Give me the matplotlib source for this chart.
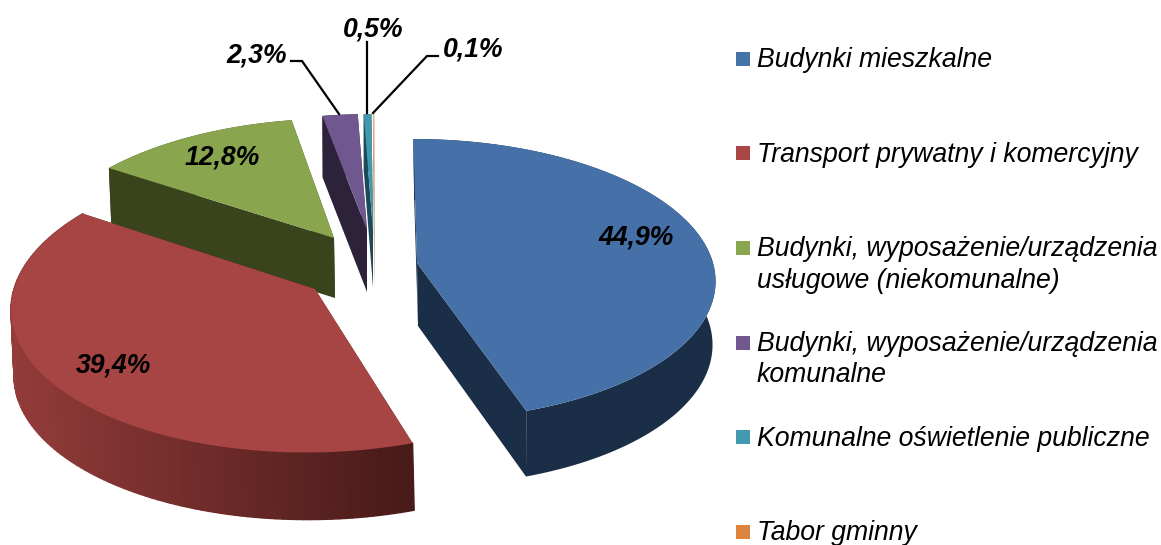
import matplotlib
matplotlib.use('Agg')
import matplotlib.pyplot as plt
import matplotlib.colors as colors
from matplotlib.collections import PolyCollection
from matplotlib.patches import Polygon, Rectangle
import numpy as np

plt.rcParams['font.family'] = ['Liberation Sans', 'DejaVu Sans']

# data
names = ['Budynki mieszkalne', 'Transport prywatny i komercyjny',
         'Budynki, wyposażenie/urządzenia\nusługowe (niekomunalne)',
         'Budynki, wyposażenie/urządzenia\nkomunalne',
         'Komunalne oświetlenie publiczne', 'Tabor gminny']
shares = [44.9, 39.4, 12.8, 2.3, 0.5, 0.1]

top_colors = ['#4571a8', '#a64543', '#89a54e', '#71578f', '#4298af', '#e0b08a']
key_colors = ['#4572a7', '#aa4643', '#89a54e', '#71588f', '#4198af', '#db843d']
wall_left = ['#1b2e47', '#933c3a', '#39431c', '#2c2239', '#1c4a58', '#c9a080']
wall_right = ['#1b2e47', '#481a18', '#39431c', '#2c2239', '#1c4a58', '#c9a080']

# slice geometry in pixels: top apex, bottom apex, rx, ry, perspective, skew
apex_top = [(417, 263), (315, 289), (334, 238), (367, 230), (373, 230), (374.5, 230)]
apex_low = [(418, 326), (317, 355), (335, 298), (367, 292), (373, 287), (374.5, 287)]
rx_top = [296, 301, 295, 280, 280, 280]
rx_low = [292, 300, 293, 278, 278, 278]
ry_top = [138.5, 145, 137, 132, 132, 132]
ry_low = [141, 146, 137, 132, 132, 132]
persp = [0.117, 0.113, 0.146, 0.14, 0.14, 0.14]
skew = [0.03, -0.056, -0.037, 0.0, 0.0, 0.0]

label_pos = [(636, 237.5), (113, 365.5), (222, 157.5), (256.5, 55.5), (373, 29.5), (473, 49.5)]
leaders = [None, None, None,
           [(291, 61), (302, 61), (339, 114)],
           [(367, 42), (367, 113)],
           [(438, 56), (427, 56), (373, 113)]]

key_tops = [52, 146, 241, 336, 430, 525]
key_baselines = [[67], [162], [255.5, 288.5], [351, 382], [446], [540]]


def rim(th, apex, rx, ry, k, s):
    w = 1 + k * np.cos(th)
    dy = -ry * np.cos(th) / w
    dx = rx * np.sin(th) / w + s * dy
    return apex[0] + dx, apex[1] + dy


fig = plt.figure(figsize=(11.61, 5.45), dpi=100)
ax = fig.add_axes([0, 0, 1, 1])
ax.set_xlim(0, 1161)
ax.set_ylim(545, 0)
ax.axis('off')

edges = np.radians(np.concatenate([[0], np.cumsum(shares)]) * 3.6)

# back slices first, red and blue sit in front
for rank, i in enumerate([2, 3, 4, 5, 0, 1]):
    z = 2 + rank * 0.1
    th = np.linspace(edges[i], edges[i + 1], 120)
    xt, yt = rim(th, apex_top[i], rx_top[i], ry_top[i], persp[i], skew[i])
    xl, yl = rim(th, apex_low[i], rx_low[i], ry_low[i], persp[i], skew[i])

    # cut faces
    for j in [0, -1]:
        ax.add_patch(Polygon([apex_top[i], (xt[j], yt[j]), (xl[j], yl[j]), apex_low[i]],
                             fc=wall_right[i], ec='none', zorder=z))

    # outer wall, shaded left to right
    if wall_left[i] == wall_right[i]:
        ax.add_patch(Polygon(np.vstack([np.column_stack([xt, yt]), np.column_stack([xl, yl])[::-1]]),
                             fc=wall_left[i], ec='none', zorder=z))
    else:
        cmap = colors.LinearSegmentedColormap.from_list('w', [wall_left[i], wall_right[i]])
        quads = [[(xt[n], yt[n]), (xt[n + 1], yt[n + 1]), (xl[n + 1], yl[n + 1]), (xl[n], yl[n])]
                 for n in range(len(th) - 1)]
        shade = cmap((xt[:-1] - xt.min()) / (xt.max() - xt.min()))
        ax.add_collection(PolyCollection(quads, facecolors=shade, edgecolors=shade,
                                         linewidths=1.0, zorder=z))

    # top surface
    ax.add_patch(Polygon(np.vstack([[apex_top[i]], np.column_stack([xt, yt])]),
                         fc=top_colors[i], ec='none', zorder=z + 0.05))

for i, v in enumerate(shares):
    ax.text(label_pos[i][0], label_pos[i][1], f'{v:.1f}%'.replace('.', ','),
            fontsize=19.2, fontweight='bold', fontstyle='italic', color='black',
            ha='center', va='center', zorder=5)
    if leaders[i]:
        pts = np.array(leaders[i])
        ax.plot(pts[:, 0], pts[:, 1], color='black', lw=1.6, zorder=4, solid_joinstyle='miter')

# legend
for i, name in enumerate(names):
    ax.add_patch(Rectangle((736, key_tops[i]), 14, 14, fc=key_colors[i], ec='none', zorder=5))
    for line, base in zip(name.split('\n'), key_baselines[i]):
        ax.text(757, base, line, fontsize=19.2, fontstyle='italic', color='black',
                ha='left', va='baseline', zorder=5)

fig.savefig('out.png', dpi=100, facecolor='white')
